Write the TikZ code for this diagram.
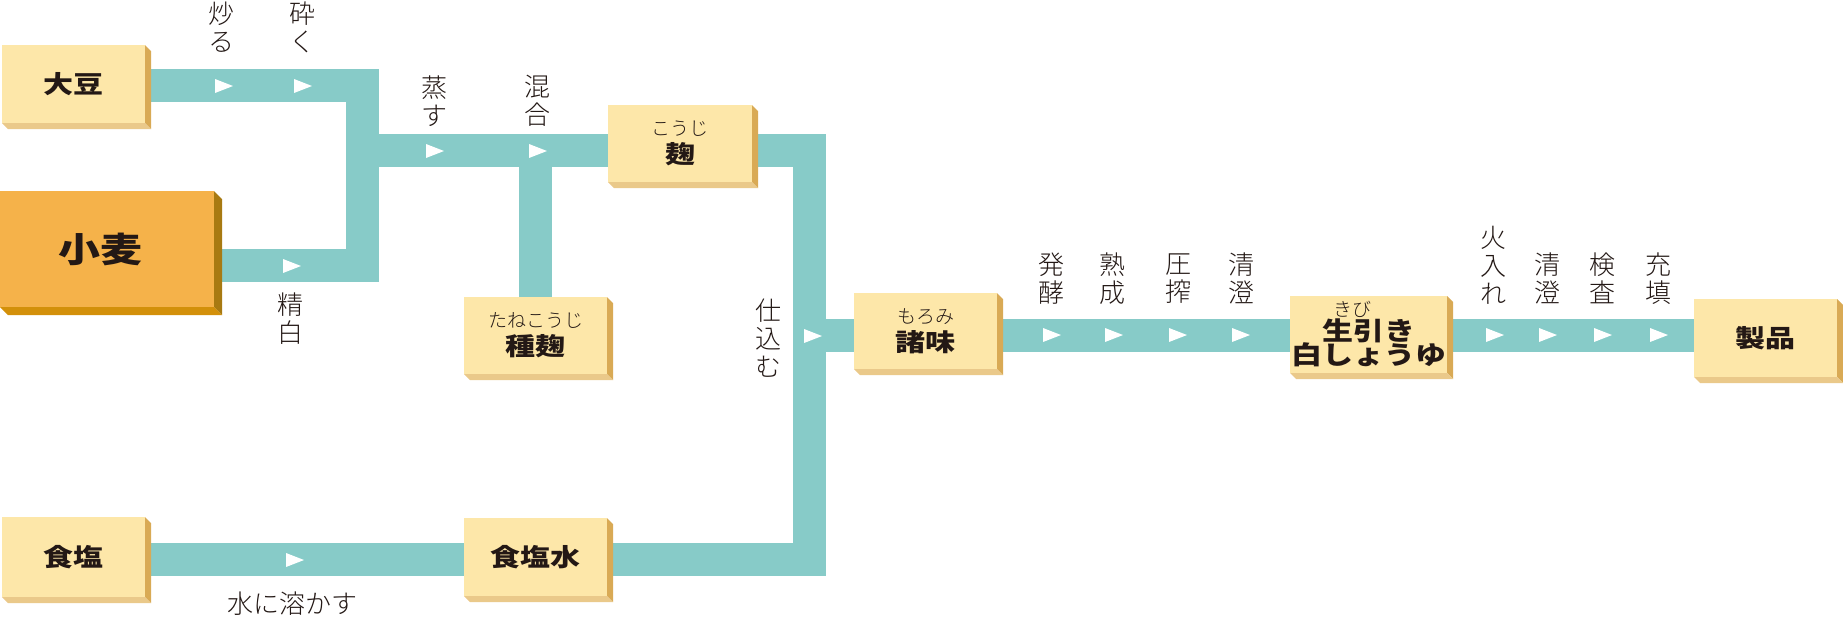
\documentclass[tikz,border=0pt]{standalone}
\usepackage{fontspec}
\usepackage{graphicx}
\usetikzlibrary{backgrounds}
\newfontfamily\jp{Noto Sans CJK JP}
\newfontfamily\jplt{Noto Sans CJK JP Light}
\definecolor{pipecol}{RGB}{135,203,200}
\definecolor{cream}{RGB}{253,231,169}
\definecolor{creamside}{RGB}{217,170,85}
\definecolor{creambot}{RGB}{234,201,138}
\definecolor{wheat}{RGB}{245,178,74}
\definecolor{wheatside}{RGB}{168,122,18}
\definecolor{wheatbot}{RGB}{211,144,10}
\definecolor{ink}{RGB}{35,24,21}
\newcommand{\squash}[1]{\scalebox{1}[0.82]{#1}}
\newcommand{\rubi}[1]{{\jplt\mdseries\fontsize{9.5}{11}\selectfont #1}}
% name, depth, side colour, bottom colour
\newcommand{\bevel}[4]{%
  \fill[#3] (#1.north east) -- ([shift={(#2,#2)}]#1.north east) -- ([shift={(#2,#2)}]#1.south east) -- (#1.south east) -- cycle;
  \fill[#4] (#1.south west) -- ([shift={(#2,#2)}]#1.south west) -- ([shift={(#2,#2)}]#1.south east) -- (#1.south east) -- cycle;}
\begin{document}
\begin{tikzpicture}[x=0.5pt,y=-0.5pt,
  box/.style={fill=cream, inner sep=0pt, outer sep=0pt, align=center, text=ink, font=\jp\bfseries\fontsize{15}{16}\selectfont},
  lab/.style={inner sep=0pt, align=center, text=ink, font=\jplt\fontsize{13}{14}\selectfont},
  flow/.style={draw=pipecol, line width=16.5pt, line cap=butt, line join=miter},
  tri/.pic={\fill[white] (-9,-7) -- (9,0) -- (-9,7) -- cycle;}]
\useasboundingbox (0,0) rectangle (1843,618);

%Shape: Rectangle
\node[box, minimum width=71.5pt, minimum height=39pt] (daizu) at (73.5,84) {\squash{大豆}};
\node[box, fill=wheat, minimum width=107pt, minimum height=58pt, font=\jp\bfseries\fontsize{21}{22}\selectfont] (komugi) at (107,249) {\squash{小麦}\hspace*{7pt}};
\node[box, minimum width=71.5pt, minimum height=40pt] (shio) at (73.5,557) {\squash{食塩}};
\node[box, minimum width=71.5pt, minimum height=39pt] (enshui) at (535.5,557) {\squash{食塩水}};
\node[box, minimum width=71.5pt, minimum height=38.5pt] (tane) at (535.5,335.5) {\rubi{たねこうじ}\\[-2pt]\squash{種麹}};
\node[box, minimum width=72pt, minimum height=38.5pt] (koji) at (680,143.5) {\rubi{こうじ}\\[-2pt]\squash{麹}};
\node[box, minimum width=71.5pt, minimum height=38pt] (moromi) at (925.5,331) {\rubi{もろみ}\\[-2pt]\squash{諸味}};
\node[box, minimum width=78.5pt, minimum height=38.5pt, font=\jp\bfseries\fontsize{15.5}{15}\selectfont] (kibiki) at (1368.5,334.5) {\rubi{きび\hspace*{16pt}}\\[-3pt]\squash{生引き}\\[-3pt]\squash{白しょうゆ}};
\node[box, minimum width=71.5pt, minimum height=39pt] (seihin) at (1765.5,338) {\squash{製品}};

\bevel{daizu}{6}{creamside}{creambot}
\bevel{komugi}{8}{wheatside}{wheatbot}
\bevel{shio}{6}{creamside}{creambot}
\bevel{enshui}{6}{creamside}{creambot}
\bevel{tane}{6}{creamside}{creambot}
\bevel{koji}{6}{creamside}{creambot}
\bevel{moromi}{6}{creamside}{creambot}
\bevel{kibiki}{6}{creamside}{creambot}
\bevel{seihin}{6}{creamside}{creambot}

\coordinate (bend1) at (362,85.5);
\coordinate (bend2) at (362,265.5);
\coordinate (fork) at (362,150.5);
\coordinate (bend3) at (809.5,150.5);
\coordinate (bend4) at (809.5,559.5);
\coordinate (tee) at (809.5,335);

\begin{scope}[on background layer]
%Straight Lines
\draw[flow] (daizu.east |- bend1) -- (bend1) -- (bend2) -- (komugi.east |- bend2);
\draw[flow] (fork) -- (koji.west |- fork);
\draw[flow] (tane.north) -- (tane.north |- fork);
\draw[flow] (koji.east |- bend3) -- (bend3) -- (bend4) -- (enshui.east |- bend4);
\draw[flow] (shio.east |- bend4) -- (enshui.west |- bend4);
\draw[flow] (tee) -- (moromi.west |- tee);
\draw[flow] (moromi.east |- tee) -- (kibiki.west |- tee);
\draw[flow] (kibiki.east |- tee) -- (seihin.west |- tee);
\end{scope}

\foreach \x/\y in {224/86, 303/86, 292/266, 435/151, 538/151, 295/560, 813/336,
  1052/335, 1114/335, 1178/335, 1241/335, 1495/335, 1548/335, 1603/335, 1659/335}
  \pic at (\x,\y) {tri};

% Text Node
\node[lab] (t1) at (221,27) {炒\\る};
\node[lab] (t2) at (302,27) {砕\\く};
\node[lab] (t3) at (434,101) {蒸\\す};
\node[lab] (t4) at (537,101) {混\\合};
\node[lab] (t5) at (290,319) {精\\白};
\node[lab] (t6) at (768,338) {仕\\込\\む};
\node[lab] (t7) at (1051,278.5) {発\\酵};
\node[lab] (t8) at (1112,278.5) {熟\\成};
\node[lab] (t9) at (1178,278.5) {圧\\搾};
\node[lab] (t10) at (1241,278.5) {清\\澄};
\node[lab] (t11) at (1493,265) {火\\入\\れ};
\node[lab] (t12) at (1547,278.5) {清\\澄};
\node[lab] (t13) at (1602,278.5) {検\\査};
\node[lab] (t14) at (1658,278.5) {充\\填};
\node[lab] (t15) at (292,604) {水に溶かす};

\end{tikzpicture}
\end{document}
